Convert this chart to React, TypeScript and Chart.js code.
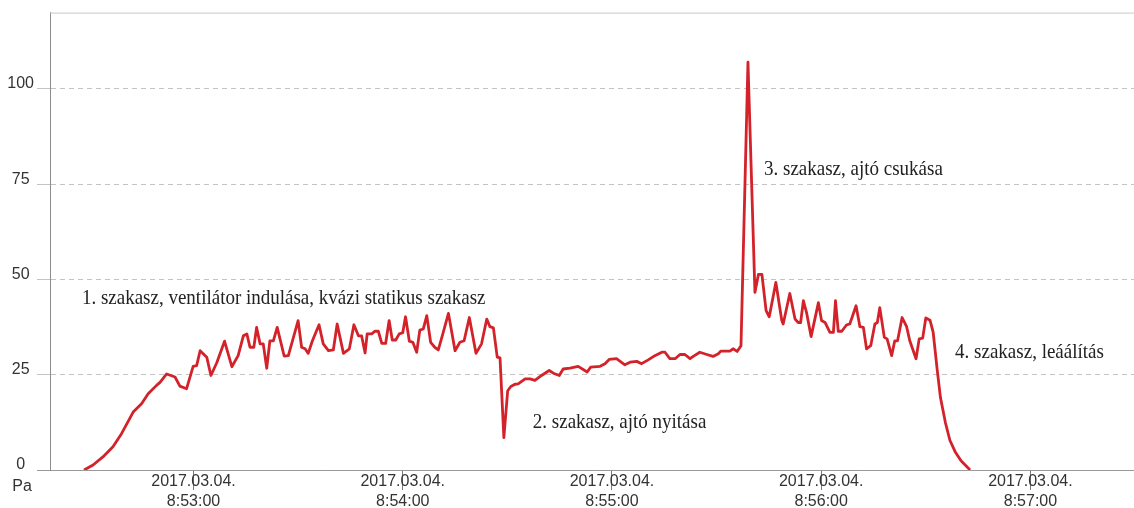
import React, { useEffect, useRef } from 'react';
import { Chart, registerables } from 'chart.js';

Chart.register(...registerables);

// Sample times, in seconds after 2017.03.04. 8:52:00
const timeSeconds = [
  28.6, 31.2, 34.1, 36.9, 39.4, 42.7, 45.1, 47.0, 49.4, 50.4,
  52.3, 54.7, 56.1, 58.0, 59.9, 60.9, 61.9, 63.8, 65.0, 66.7,
  68.9, 71.0, 72.8, 74.3, 75.3, 76.2, 77.3, 78.1, 79.1, 80.0,
  81.0, 81.9, 82.9, 84.0, 86.0, 87.2, 90.0, 91.0, 92.0, 92.9,
  94.1, 96.0, 97.2, 98.7, 100.1, 101.2, 103.0, 104.7, 106.0, 107.3,
  108.2, 109.2, 109.8, 111.1, 112.0, 113.0, 114.0, 115.1, 116.1, 117.0,
  118.0, 119.0, 120.0, 120.8, 121.9, 122.9, 124.0, 124.9, 125.9, 126.9,
  128.0, 129.2, 130.2, 131.5, 133.1, 135.0, 136.4, 137.6, 139.1, 141.0,
  142.6, 144.1, 145.0, 146.0, 147.1, 147.9, 149.0, 150.1, 151.0, 152.2,
  153.1, 155.1, 156.5, 157.9, 159.8, 162.0, 163.2, 164.9, 166.0, 168.0,
  170.3, 172.9, 173.9, 176.6, 178.0, 179.2, 181.3, 183.7, 185.2, 187.1,
  188.5, 190.4, 192.3, 194.3, 195.2, 196.6, 198.1, 199.5, 200.9, 202.4,
  203.3, 205.2, 207.2, 209.0, 210.5, 211.2, 213.8, 214.8, 215.9, 217.0,
  219.0, 221.0, 222.0, 223.0, 224.2, 225.1, 227.0, 228.7, 229.1, 231.0,
  232.5, 233.4, 234.1, 234.9, 235.8, 237.1, 239.2, 240.1, 241.1, 242.5,
  243.5, 244.1, 244.9, 245.9, 247.3, 248.2, 250.0, 251.1, 252.1, 253.0,
  254.2, 255.4, 256.1, 256.8, 258.1, 258.9, 260.2, 261.1, 261.9, 263.2,
  264.5, 265.4, 267.2, 268.1, 269.1, 270.0, 271.2, 272.1, 273.3, 274.2,
  275.6, 276.9, 278.4, 280.1, 282.7,
];

// Differential pressure, Pa
const pressurePa = [
  0, 1.3, 3.5, 6.1, 9.6, 15.2, 17.4, 20, 22.2, 23,
  25.2, 24.4, 22.0, 21.3, 27.2, 27.4, 31.3, 29.6, 24.8, 28.2,
  33.8, 27.1, 30, 35.2, 35.7, 32.2, 32.2, 37.4, 33.1, 33.1,
  26.7, 33.9, 33.9, 37.4, 29.9, 30, 39.2, 32.2, 31.8, 30.6,
  33.9, 38.1, 33.1, 31.3, 31.5, 38.3, 30.6, 31.8, 38.1, 35.2,
  35.2, 30.7, 35.7, 35.7, 36.4, 36.4, 33.2, 33.2, 39.2, 34.1,
  34.1, 35.7, 36, 40.2, 33.8, 33.5, 30.9, 36.7, 37, 40.5,
  33.5, 32.2, 31.5, 35.7, 41.1, 31.3, 33.5, 33.9, 40, 30.6,
  33.1, 39.6, 37.6, 37.3, 29.6, 29.4, 8.5, 20.8, 21.9, 22.5,
  22.6, 23.9, 23.9, 23.5, 24.8, 26.1, 25.4, 24.8, 26.5, 26.7,
  27.2, 25.7, 27, 27.2, 27.9, 29, 29.2, 27.6, 28.3, 28.5,
  27.9, 28.9, 30, 30.9, 30.9, 29.2, 29.2, 30.3, 30.3, 29.2,
  29.8, 30.9, 30.3, 29.8, 30.5, 31.2, 31.2, 31.8, 31.1, 32.6,
  107, 46.6, 51.3, 51.3, 41.8, 40.2, 49.2, 39.2, 38.3, 46.3,
  39.6, 38.7, 38.7, 44.4, 41.3, 35, 43.9, 39.2, 38.7, 36.1,
  36.1, 44.4, 36.4, 36.4, 38.1, 38.3, 43.1, 37.6, 37.4, 31.8,
  32.6, 38.3, 38.7, 42.6, 34.8, 34.4, 30, 33.9, 33.9, 40,
  37.6, 33.9, 29.2, 34.4, 34.6, 39.9, 39.3, 36.2, 26, 19,
  12.5, 7.8, 4.8, 2.4, 0,
];

const yTickValues = [0, 25, 50, 75, 100];
const yUnit = 'Pa';
const xTickSeconds = [60, 120, 180, 240, 300];
const xTickDate = '2017.03.04.';
const xTickTimes = ['8:53:00', '8:54:00', '8:55:00', '8:56:00', '8:57:00'];

// Phase captions, anchored at (seconds, Pa) of their baseline start
const phaseLabels = [
  '1. szakasz, ventilátor indulása, kvázi statikus szakasz',
  '2. szakasz, ajtó nyitása',
  '3. szakasz, ajtó csukása',
  '4. szakasz, leáálítás',
];
const phaseLabelSeconds = [28.0, 157.3, 223.6, 278.4];
const phaseLabelPa = [43.5, 10.9, 77.5, 29.4];

const X_MIN = 18.85;
const X_MAX = 329.7;
const Y_MAX = 120;

const sansFont = '"Liberation Sans", Arial, sans-serif';
const serifFont = '"Liberation Serif", "Times New Roman", serif';

const overlayPlugin = {
  id: 'overlay',
  afterDraw(chart: any) {
    const { ctx, chartArea, scales } = chart;
    const x = scales.x;
    const y = scales.y;
    ctx.save();

    // top frame line
    ctx.strokeStyle = '#c8c8c8';
    ctx.lineWidth = 1;
    ctx.beginPath();
    ctx.moveTo(chartArea.left, chartArea.top + 0.5);
    ctx.lineTo(chartArea.right, chartArea.top + 0.5);
    ctx.stroke();

    // unit below the zero label
    ctx.fillStyle = '#333333';
    ctx.font = `16px ${sansFont}`;
    ctx.textAlign = 'center';
    ctx.textBaseline = 'middle';
    ctx.fillText(yUnit, 22, y.getPixelForValue(0) + 17);

    // phase captions
    ctx.font = `19px ${serifFont}`;
    ctx.textAlign = 'left';
    ctx.textBaseline = 'alphabetic';
    ctx.fillStyle = '#222222';
    phaseLabels.forEach((text, i) => {
      const px = x.getPixelForValue(phaseLabelSeconds[i]);
      const py = y.getPixelForValue(phaseLabelPa[i]);
      ctx.save();
      ctx.translate(px, py);
      ctx.scale(1, 1.1);
      ctx.fillText(text, 0, 0);
      ctx.restore();
    });

    ctx.restore();
  },
};

export default function App() {
  const canvasRef = useRef<HTMLCanvasElement | null>(null);

  useEffect(() => {
    if (!canvasRef.current) return;
    const chart = new Chart(canvasRef.current, {
      type: 'line',
      data: {
        datasets: [
          {
            label: 'Nyomáskülönbség',
            data: timeSeconds.map((t, i) => ({ x: t, y: pressurePa[i] })),
            borderColor: '#d3222a',
            borderWidth: 2.8,
            pointRadius: 0,
            tension: 0,
            fill: false,
            borderJoinStyle: 'round',
          },
        ],
      },
      options: {
        responsive: false,
        animation: false,
        layout: { padding: { top: 10, right: 0, left: 0, bottom: 0 } },
        plugins: {
          legend: { display: false },
          tooltip: { enabled: false },
        },
        scales: {
          x: {
            type: 'linear',
            min: X_MIN,
            max: X_MAX,
            afterBuildTicks: (scale: any) => {
              scale.ticks = xTickSeconds.map((v) => ({ value: v }));
            },
            afterFit: (scale: any) => {
              scale.height = 38;
            },
            grid: {
              display: true,
              drawOnChartArea: false,
              drawTicks: true,
              tickLength: 20,
              color: '#7a7a7a',
            },
            border: { display: true, color: '#9a9a9a' },
            ticks: {
              autoSkip: false,
              maxRotation: 0,
              minRotation: 0,
              padding: -18,
              color: '#333333',
              font: { family: sansFont, size: 16, lineHeight: 1.25 },
              callback: (value: any) => {
                const idx = xTickSeconds.indexOf(Number(value));
                return [xTickDate, idx >= 0 ? xTickTimes[idx] : ''];
              },
            },
          },
          y: {
            type: 'linear',
            min: 0,
            max: Y_MAX,
            afterBuildTicks: (scale: any) => {
              scale.ticks = yTickValues.map((v) => ({ value: v }));
            },
            afterFit: (scale: any) => {
              scale.width = 50;
            },
            grid: {
              color: (c: any) => (c.tick && c.tick.value === 0 ? '#9a9a9a' : '#c4c4c4'),
              tickLength: 13,
              lineWidth: 1,
            },
            border: {
              display: true,
              color: '#8c8c8c',
              dash: (c: any) => (c.tick && c.tick.value === 0 ? [] : [5, 4]),
            },
            ticks: {
              crossAlign: 'center',
              padding: 3,
              labelOffset: -5,
              color: '#333333',
              font: { family: sansFont, size: 16 },
            },
          },
        },
      },
      plugins: [overlayPlugin],
    } as any);
    return () => chart.destroy();
  }, []);

  return (
    <div style={{ position: 'absolute', left: 0, top: 0, width: 1134, height: 508, background: '#ffffff' }}>
      <canvas ref={canvasRef} width={1134} height={508} style={{ display: 'block' }} />
    </div>
  );
}
